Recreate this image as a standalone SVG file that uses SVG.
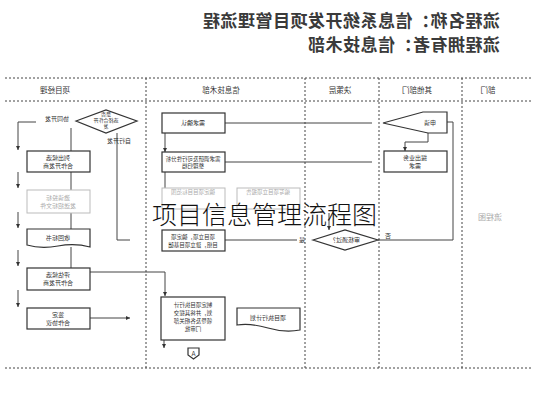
<svg xmlns="http://www.w3.org/2000/svg" width="533" height="400" viewBox="0 0 533 400">
<defs>
<style>
.bg{fill:#fff}
.box{fill:#fff;stroke:#333;stroke-width:1.2}
.fade{fill:#fff;stroke:#bbb;stroke-width:1}
.ln{fill:none;stroke:#444;stroke-width:1}
.dash{fill:none;stroke:#444;stroke-width:1;stroke-dasharray:2 2}
.t{font-family:"Noto Sans CJK SC","Noto Sans",sans-serif;font-size:6px;fill:#333;text-anchor:middle}
.tf{font-family:"Noto Sans CJK SC","Noto Sans",sans-serif;font-size:6px;fill:#aaa;text-anchor:middle}
.h{font-family:"Noto Sans CJK SC","Noto Sans",sans-serif;font-size:7.5px;fill:#333;text-anchor:middle}
.title{font-family:"Noto Sans CJK SC","Noto Sans",sans-serif;font-size:17px;letter-spacing:0.5px;fill:#3a3a3a;font-weight:bold}
.big{font-family:"Noto Sans CJK SC","Noto Sans",sans-serif;font-size:25px;fill:#111;font-weight:300}
</style>
<marker id="ar" viewBox="0 0 6 6" refX="6" refY="3" markerWidth="4" markerHeight="4" orient="auto">
<path d="M0,0 L6,3 L0,6 Z" fill="#333"/>
</marker>
</defs>
<rect class="bg" width="533" height="400"/>

<g id="title">
<text class="title" transform="translate(500,27) scale(-1,1)">流程名称：信息系统开发项目管理流程</text>
<text class="title" transform="translate(500,51) scale(-1,1)">流程拥有者：信息技术部</text>
</g>

<g id="lanes">
<line class="dash" x1="5" y1="78" x2="533" y2="78"/>
<line class="dash" x1="5" y1="101" x2="533" y2="101"/>
<line class="dash" x1="5" y1="368" x2="533" y2="368"/>
<line class="dash" x1="146" y1="78" x2="146" y2="368"/>
<line class="dash" x1="305" y1="78" x2="305" y2="368"/>
<line class="dash" x1="379" y1="78" x2="379" y2="368"/>
<line class="dash" x1="462" y1="78" x2="462" y2="368"/>
<text class="h" transform="translate(55,93) scale(-1,1)">项目经理</text>
<text class="h" transform="translate(221,93) scale(-1,1)">信息技术部</text>
<text class="h" transform="translate(340,93) scale(-1,1)">决策层</text>
<text class="h" transform="translate(417,93) scale(-1,1)">其他部门</text>
<text class="h" transform="translate(488,93) scale(-1,1)">部门</text>
<text class="tf" style="font-size:8px" transform="translate(490,220) scale(-1,1)">流程图</text>
</g>

<g id="connectors">
<path class="ln" d="M36,122 H18 V150" marker-end="url(#ar)"/>
<path class="ln" d="M71,128 V151"/>
<path class="ln" d="M71,172 V190"/>
<path class="ln" d="M71,213 V229"/>
<path class="ln" d="M71,247 V268"/>
<path class="ln" d="M18,172 V188" marker-end="url(#ar)"/>
<path class="ln" d="M18,212 V228" marker-end="url(#ar)"/>
<path class="ln" d="M18,250 V266" marker-end="url(#ar)"/>
<path class="ln" d="M18,290 V307" marker-end="url(#ar)"/>
<path class="ln" d="M117,133 V240 H130"/>
<path class="ln" d="M90,318 H130" marker-end="url(#ar)"/>
<path class="ln" d="M90,272 H165 V296" marker-end="url(#ar)"/>
<path class="ln" d="M372,123 H225"/>
<path class="ln" d="M165,133 V152" marker-end="url(#ar)"/>
<path class="ln" d="M372,162 H225"/>
<path class="ln" d="M165,172 V188"/>
<path class="ln" d="M225,240 H297"/>
<path class="ln" d="M329,213 V230" marker-end="url(#ar)"/>
<path class="ln" d="M378,240 H453 V122 H442" marker-end="url(#ar)"/>
<path class="ln" d="M428,133 V142 H405 V151" marker-end="url(#ar)"/>
<path class="ln" d="M164,340 V348" marker-end="url(#ar)"/>
<text class="t" transform="translate(57,121) scale(-1,1)">协同开发</text>
<text class="t" transform="translate(119,143) scale(-1,1)">自行开发</text>
<text class="t" transform="translate(302,242) scale(-1,1)">是</text>
<text class="t" transform="translate(388,238) scale(-1,1)">否</text>
</g>

<g id="n-decide-dev">
<polygon class="box" points="76,121 106,110 137,121 106,133"/>
<text class="t" style="font-size:5px" transform="translate(106,116) scale(-1,1)">是否<tspan x="0" dy="6">选择合作开</tspan><tspan x="0" dy="6">发</tspan></text>
</g>
<g id="n-list">
<rect class="box" x="27" y="151" width="63" height="21"/>
<text class="t" transform="translate(58,159.5) scale(-1,1)">列出候选<tspan x="0" dy="8">合作开发商</tspan></text>
</g>
<g id="n-invite">
<rect class="fade" x="27" y="190" width="63" height="23"/>
<text class="tf" transform="translate(58,199.5) scale(-1,1)">邀请投标<tspan x="0" dy="8">发送招标文件</tspan></text>
</g>
<g id="n-bids">
<path class="box" d="M27,229 H90 V247 Q75,243 58,246 T27,245 Z"/>
<text class="t" transform="translate(58,240) scale(-1,1)">收回标书</text>
</g>
<g id="n-eval">
<rect class="box" x="27" y="268" width="63" height="22"/>
<text class="t" transform="translate(58,277) scale(-1,1)">评估候选<tspan x="0" dy="8">合作开发商</tspan></text>
</g>
<g id="n-sign">
<rect class="box" x="27" y="308" width="63" height="21"/>
<text class="t" transform="translate(58,316.5) scale(-1,1)">签定<tspan x="0" dy="8">合作协议</tspan></text>
</g>

<g id="n-confirm">
<rect class="box" x="162" y="113" width="63" height="20"/>
<text class="t" transform="translate(193,125) scale(-1,1)">需求确认</text>
</g>
<g id="n-analysis">
<rect class="box" x="162" y="152" width="63" height="20"/>
<text class="t" style="font-size:5.5px" transform="translate(193,160.5) scale(-1,1)">需求调研及可行性分析<tspan x="0" dy="7.5">整理归档</tspan></text>
</g>
<g id="n-fadeA">
<rect class="fade" x="162" y="188" width="63" height="21"/>
<text class="tf" style="font-size:5.5px" transform="translate(193,193.5) scale(-1,1)">确定项目目标范围</text>
</g>
<g id="n-fadeB">
<rect class="fade" x="237" y="188" width="63" height="21"/>
<text class="tf" style="font-size:5.5px" transform="translate(268,193.5) scale(-1,1)">编写项目立项报告</text>
</g>
<g id="n-setup">
<rect class="box" x="162" y="230" width="63" height="21"/>
<text class="t" style="font-size:5.5px" transform="translate(193,238.5) scale(-1,1)">项目立项，确定项<tspan x="0" dy="8">目组，建立项目基础</tspan></text>
</g>
<g id="n-plan">
<rect class="box" x="161" y="297" width="64" height="43"/>
<text class="t" style="font-size:5.5px" transform="translate(193,307) scale(-1,1)">制定项目执行计<tspan x="0" dy="8">划，并将其提交</tspan><tspan x="0" dy="8">领导及各相关部</tspan><tspan x="0" dy="8">门审批</tspan></text>
</g>
<g id="n-plandoc">
<path class="box" d="M237,308 H300 V330 Q285,333 268,328 T237,325 Z"/>
<text class="t" transform="translate(268,320) scale(-1,1)">项目执行计划</text>
</g>
<g id="n-A">
<path class="box" d="M188,348 H199 V355 L193.5,359 L188,355 Z"/>
<text class="t" style="font-size:6.5px" transform="translate(193.5,355.5) scale(-1,1)">A</text>
</g>

<g id="n-approve">
<polygon class="box" points="313,240 345,230 378,240 345,250"/>
<text class="t" transform="translate(345,242) scale(-1,1)">审核通过？</text>
</g>

<g id="n-apply">
<polygon class="box" points="383,123 423,112 447,112 447,133 428,133"/>
<text class="t" transform="translate(430,125) scale(-1,1)">申请</text>
</g>
<g id="n-request">
<rect class="box" x="384" y="151" width="63" height="21"/>
<text class="t" transform="translate(415,159.5) scale(-1,1)">提出业务<tspan x="0" dy="8">需求</tspan></text>
</g>

<g id="overlay">
<text class="big" x="152" y="224">项目信息管理流程图</text>
</g>
</svg>
